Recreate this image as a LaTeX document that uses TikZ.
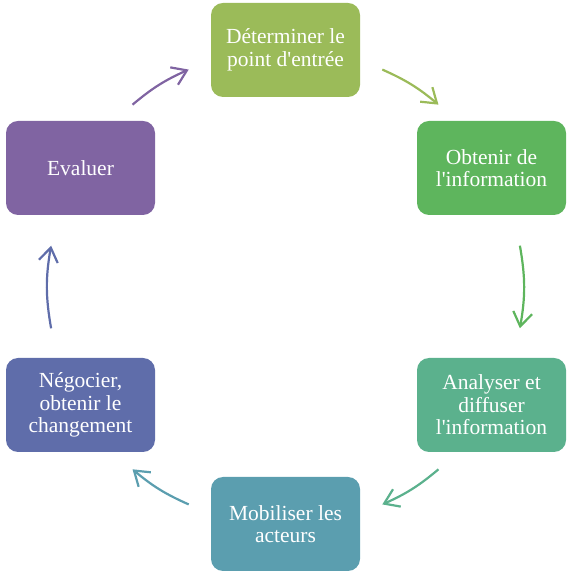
\documentclass[tikz,border=0pt]{standalone}
\usepackage{fontspec}
\setmainfont{Liberation Serif}[Ligatures=TeXOff]
\usetikzlibrary{arrows.meta}
\definecolor{cA}{HTML}{9BBB59}
\definecolor{cB}{HTML}{5EB55D}
\definecolor{cC}{HTML}{5BB18D}
\definecolor{cD}{HTML}{5B9EAF}
\definecolor{cE}{HTML}{5F6DAA}
\definecolor{cF}{HTML}{8064A2}
\tikzset{
  box/.style={rectangle, rounded corners=12pt, minimum width=149pt, minimum height=94pt,
    text=white, align=center, inner sep=2pt,
    font=\fontsize{21.5}{22.5}\selectfont},
  cyc/.style={line width=2.2pt, -{Straight Barb[length=14pt,width=19pt,line width=2.2pt]}}
}
\begin{document}
\begin{tikzpicture}[x=1pt,y=1pt]
\useasboundingbox (0,0) rectangle (569,572);
\coordinate (C) at (285.5,285);
\node[box, fill=cA] (t) at (285.5,522) {Déterminer le\\point d'entrée};
\node[box, fill=cB] (rt) at (491.5,404) {Obtenir de\\l'information};
\node[box, fill=cC] (rb) at (491.5,167) {Analyser et\\diffuser\\l'information};
\node[box, fill=cD] (b) at (285.5,48) {Mobiliser les\\acteurs};
\node[box, fill=cE] (lb) at (80.5,167) {Négocier,\\obtenir le\\changement};
\node[box, fill=cF] (lt) at (80.5,404) {Evaluer};
\coordinate (a1s) at ([shift={(66:238)}]C);
\coordinate (a1e) at ([shift={(50:238)}]C);
\coordinate (a2s) at ([shift={(10:238)}]C);
\coordinate (a2e) at ([shift={(-10:238)}]C);
\coordinate (a3s) at ([shift={(-50:238)}]C);
\coordinate (a3e) at ([shift={(-66:238)}]C);
\coordinate (a4s) at ([shift={(-114:238)}]C);
\coordinate (a4e) at ([shift={(-130:238)}]C);
\coordinate (a5s) at ([shift={(190:238)}]C);
\coordinate (a5e) at ([shift={(170:238)}]C);
\coordinate (a6s) at ([shift={(130:238)}]C);
\coordinate (a6e) at ([shift={(114:238)}]C);
\draw[cyc, draw=cA] (a1s) to[bend left=8] (a1e);
\draw[cyc, draw=cB] (a2s) to[bend left=10] (a2e);
\draw[cyc, draw=cC] (a3s) to[bend left=8] (a3e);
\draw[cyc, draw=cD] (a4s) to[bend left=8] (a4e);
\draw[cyc, draw=cE] (a5s) to[bend left=10] (a5e);
\draw[cyc, draw=cF] (a6s) to[bend left=8] (a6e);
\end{tikzpicture}
\end{document}
